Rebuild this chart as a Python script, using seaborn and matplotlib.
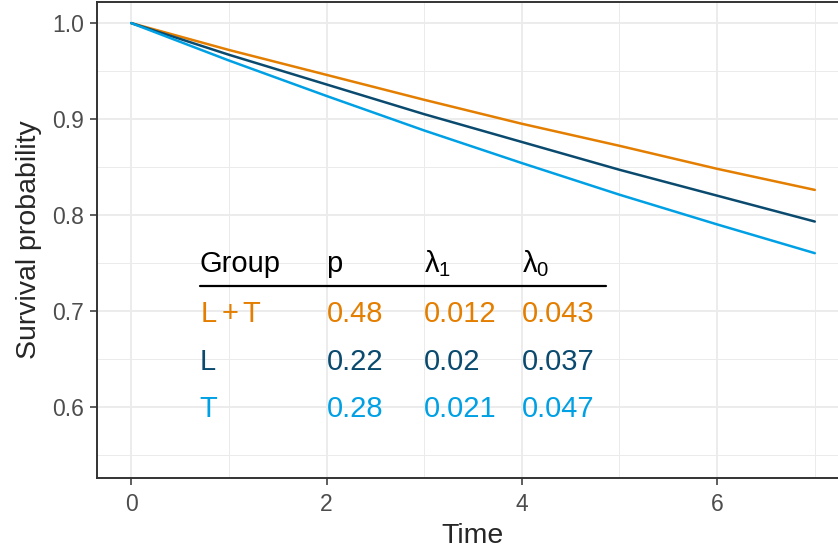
import numpy as np
import pandas as pd
import matplotlib
matplotlib.use("Agg")
import matplotlib.pyplot as plt
import seaborn as sns

# survival curves, one value per time point
time = [0, 1, 2, 3, 4, 5, 6, 7]
surv_LT = [1.0, 0.972, 0.946, 0.920, 0.895, 0.872, 0.848, 0.826]
surv_L = [1.0, 0.967, 0.936, 0.905, 0.876, 0.847, 0.820, 0.793]
surv_T = [1.0, 0.961, 0.924, 0.888, 0.854, 0.821, 0.790, 0.760]

# parameter table shown inside the plot
groups = ["L + T", "L", "T"]
group_labels = [r"$L+T$", "L", "T"]
p_vals = ["0.48", "0.22", "0.28"]
lam1_vals = ["0.012", "0.02", "0.021"]
lam0_vals = ["0.043", "0.037", "0.047"]

colors = {"L + T": "#E37E00", "L": "#0A4A6E", "T": "#00A0E4"}

df = pd.DataFrame({
    "Time": time * 3,
    "Survival": surv_LT + surv_L + surv_T,
    "Group": ["L + T"] * 8 + ["L"] * 8 + ["T"] * 8,
})

sns.set_style("white")
plt.rcParams["font.family"] = ["Liberation Sans", "DejaVu Sans"]
plt.rcParams["mathtext.fontset"] = "custom"
plt.rcParams["mathtext.rm"] = "Liberation Sans"
plt.rcParams["mathtext.it"] = "Liberation Sans"

fig = plt.figure(figsize=(8.38, 5.54), dpi=100)
ax = fig.add_axes([97 / 838, 76 / 554, 752 / 838, 476 / 554])

sns.lineplot(data=df, x="Time", y="Survival", hue="Group", palette=colors,
             linewidth=1.8, legend=False, ax=ax)

ax.set_xlim(-0.35, 7.35)
ax.set_ylim(0.5255, 1.022)
ax.set_xticks([0, 2, 4, 6])
ax.set_xticks([1, 3, 5, 7], minor=True)
ax.set_yticks([0.6, 0.7, 0.8, 0.9, 1.0])
ax.set_yticks([0.55, 0.65, 0.75, 0.85, 0.95], minor=True)
ax.set_yticklabels(["0.6", "0.7", "0.8", "0.9", "1.0"])
ax.grid(which="major", color="#EBEBEB", linewidth=1.3)
ax.grid(which="minor", color="#EBEBEB", linewidth=0.7)
ax.set_axisbelow(True)
for s in ax.spines.values():
    s.set_color("#333333")
    s.set_linewidth(1.4)
ax.tick_params(which="major", length=5, width=1.1, color="#333333",
               labelsize=16.5, labelcolor="#4D4D4D", direction="out",
               left=True, bottom=True)
ax.tick_params(axis="x", which="major", pad=6)
ax.tick_params(axis="y", which="major", pad=4.5)
ax.tick_params(which="minor", length=0)
ax.set_xlabel("Time", fontsize=20.5, labelpad=5)
ax.set_ylabel("Survival probability", fontsize=20.5, labelpad=7)

# table
cols = [0.7, 2.0, 3.0, 4.0]
headers = ["Group", "p", r"$\lambda_1$", r"$\lambda_0$"]
for x, h in zip(cols, headers):
    ax.text(x, 0.749, h, fontsize=21, color="black", ha="left", va="center")
ax.plot([0.7, 4.86], [0.726, 0.726], color="black", linewidth=1.6)
row_y = [0.697, 0.647, 0.597]
for i, g in enumerate(groups):
    vals = [group_labels[i], p_vals[i], lam1_vals[i], lam0_vals[i]]
    for x, v in zip(cols, vals):
        ax.text(x, row_y[i], v, fontsize=21, color=colors[g],
                ha="left", va="center")

fig.savefig("out.png", dpi=100)
